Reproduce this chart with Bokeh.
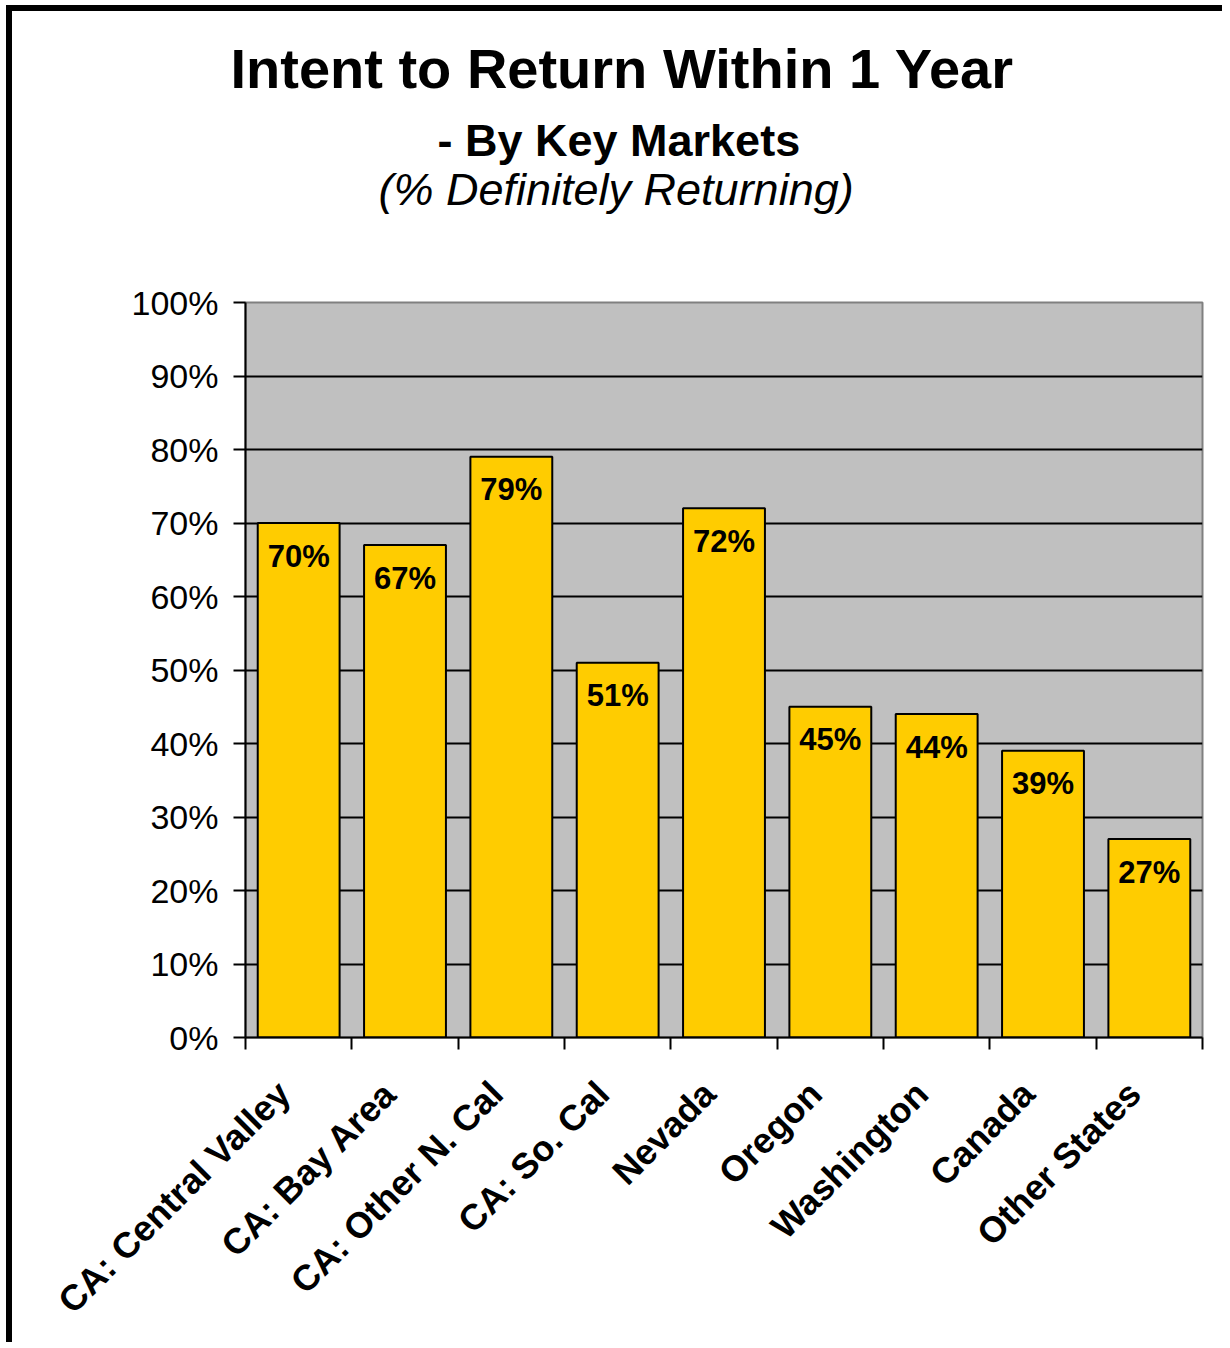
from bokeh.plotting import figure
from bokeh.models import Range1d, FixedTicker, PrintfTickFormatter, Title, ColumnDataSource
from bokeh.core.properties import value
from bokeh.embed import file_html
from bokeh.resources import INLINE
import math

categories = ["CA: Central Valley", "CA: Bay Area", "CA: Other N. Cal", "CA: So. Cal",
              "Nevada", "Oregon", "Washington", "Canada", "Other States"]
values = [70, 67, 79, 51, 72, 45, 44, 39, 27]
y_ticks = [0, 10, 20, 30, 40, 50, 60, 70, 80, 90, 100]
title_lines = ["Intent to Return Within 1 Year", "- By Key Markets", "(% Definitely Returning)"]

FONT = "Liberation Sans"
n = len(categories)
centers = [i + 0.5 for i in range(n)]
bounds = [float(i) for i in range(n + 1)]
label_pos = [c - 0.14 for c in centers]

src = ColumnDataSource(dict(x=centers, top=values, lab=[f"{v}%" for v in values]))

p = figure(width=1216, height=1337, x_range=Range1d(0, n), y_range=Range1d(0, 100),
           output_backend="svg", toolbar_location=None,
           min_border_left=233, min_border_right=26, min_border_top=291, min_border_bottom=311)
p.styles = {"border-left": "6px solid black", "border-top": "6px solid black",
            "margin-left": "6px", "margin-top": "5px"}

p.background_fill_color = "#C0C0C0"
p.border_fill_color = "white"
p.outline_line_color = "#808080"
p.outline_line_width = 2

# grid
p.xgrid.visible = False
p.ygrid.ticker = FixedTicker(ticks=y_ticks[1:-1])
p.ygrid.grid_line_color = "black"
p.ygrid.grid_line_width = 2

# bars
p.vbar(x="x", top="top", width=0.77, bottom=0, source=src,
       fill_color="#FFCC00", line_color="black", line_width=2)
p.text(x="x", y="top", text="lab", source=src, text_align="center",
       text_baseline="alphabetic", y_offset=33,
       text_font=value(FONT), text_font_style="bold", text_font_size="31px", text_color="black")

# y axis
ya = p.yaxis[0]
ya.ticker = FixedTicker(ticks=y_ticks)
ya.formatter = PrintfTickFormatter(format="%d%%")
ya.axis_line_color = "black"
ya.axis_line_width = 2
ya.major_tick_line_color = "black"
ya.major_tick_line_width = 2
ya.major_tick_out = 12
ya.major_tick_in = 0
ya.minor_tick_line_color = None
ya.major_label_standoff = 15
ya.major_label_text_font = FONT
ya.major_label_text_font_size = "34px"
ya.major_label_text_color = "black"

# x axis
xa = p.xaxis[0]
xa.ticker = FixedTicker(ticks=label_pos, minor_ticks=bounds)
xa.major_label_overrides = {c: name for c, name in zip(label_pos, categories)}
xa.axis_line_color = "black"
xa.axis_line_width = 2
xa.major_tick_line_color = None
xa.major_tick_out = 0
xa.major_tick_in = 0
xa.minor_tick_line_color = "black"
xa.minor_tick_line_width = 2
xa.minor_tick_out = 12
xa.minor_tick_in = 0
xa.major_label_orientation = math.pi / 4
xa.major_label_standoff = 38
xa.major_label_text_font = FONT
xa.major_label_text_font_style = "bold"
xa.major_label_text_font_size = "36px"
xa.major_label_text_color = "black"

# titles (first added sits closest to the plot area); offsets from the plot-area left edge
p.add_layout(Title(text=" ", align="left", standoff=75, text_font=FONT,
                   text_font_size="10px"), "above")
p.add_layout(Title(text=title_lines[2], align="left", offset=133, standoff=0,
                   text_font=FONT, text_font_style="italic", text_font_size="45px",
                   text_color="black"), "above")
p.add_layout(Title(text=title_lines[1], align="left", offset=192, standoff=-9,
                   text_font=FONT, text_font_style="bold", text_font_size="45px",
                   text_color="black"), "above")
p.add_layout(Title(text=title_lines[0], align="left", offset=-15, standoff=35,
                   text_font=FONT, text_font_style="bold", text_font_size="56px",
                   text_color="black"), "above")

open("out.html", "w").write(file_html(p, INLINE))
